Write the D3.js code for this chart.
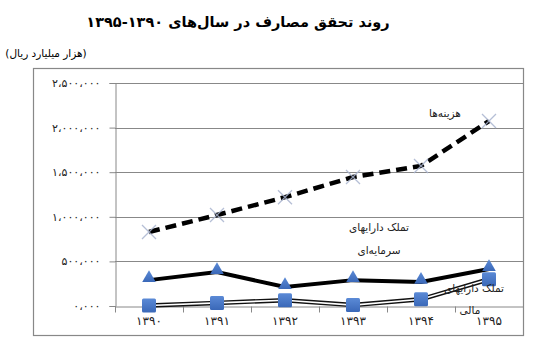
<!DOCTYPE html>
<html>
<head>
  <script src="https://d3js.org/d3.v7.min.js"></script>
  <style>
    body { margin: 0; background: #fff; }
    text { font-family: "DejaVu Sans", sans-serif; }
  </style>
</head>
<body>
<svg id="chart" width="543" height="354"></svg>
<script>
const years = ["۱۳۹۰", "۱۳۹۱", "۱۳۹۲", "۱۳۹۳", "۱۳۹۴", "۱۳۹۵"];
const expenses = [830000, 1020000, 1220000, 1446000, 1570000, 2074000];
const capitalAssets = [290000, 380000, 213000, 290000, 270000, 415000];
const financialAssets = [5000, 35000, 65000, 10000, 75000, 300000];
const yTicks = [0, 500000, 1000000, 1500000, 2000000, 2500000];
const yTickLabels = ["۰،۰۰۰", "۵۰۰،۰۰۰", "۱،۰۰۰،۰۰۰", "۱،۵۰۰،۰۰۰", "۲،۰۰۰،۰۰۰", "۲،۵۰۰،۰۰۰"];

const svg = d3.select("#chart");

// gradient for markers
const defs = svg.append("defs");
const grad = defs.append("linearGradient").attr("id", "blue").attr("x1", 0).attr("y1", 0).attr("x2", 0).attr("y2", 1);
grad.append("stop").attr("offset", "0%").attr("stop-color", "#5b8ad6");
grad.append("stop").attr("offset", "100%").attr("stop-color", "#3a68b8");

// title
svg.append("text").attr("x", 238).attr("y", 27).attr("text-anchor", "middle")
  .attr("font-size", 14.5).attr("font-weight", "bold").attr("direction", "rtl")
  .text("روند تحقق مصارف در سال‌های ۱۳۹۰-۱۳۹۵");
svg.append("text").attr("x", 46).attr("y", 57).attr("text-anchor", "middle")
  .attr("font-size", 10.5).attr("direction", "rtl")
  .text("(هزار میلیارد ریال)");

// outer frame
svg.append("rect").attr("x", 33.5).attr("y", 68.5).attr("width", 490).attr("height", 267)
  .attr("fill", "none").attr("stroke", "#888").attr("stroke-width", 1.2);

const x = d3.scaleBand().domain(years).range([115, 523]);
const y = d3.scaleLinear().domain([0, 2500000]).range([306, 83]);

// gridlines
svg.append("g").selectAll("line").data(yTicks.slice(1)).join("line")
  .attr("x1", 115).attr("x2", 523)
  .attr("y1", d => Math.round(y(d)) + 0.5).attr("y2", d => Math.round(y(d)) + 0.5)
  .attr("stroke", "#888").attr("stroke-width", 1);

// y axis
const yAxis = svg.append("g").attr("transform", "translate(115.5,0)")
  .call(d3.axisLeft(y).tickValues(yTicks).tickSize(6).tickFormat((d, i) => yTickLabels[i]));
yAxis.select(".domain").attr("stroke", "#888");
yAxis.selectAll(".tick line").attr("stroke", "#888");
yAxis.selectAll(".tick text").attr("font-size", 11).attr("x", -15).attr("fill", "#222")
  .style("font-family", "DejaVu Sans");

// x axis
const xAxis = svg.append("g").attr("transform", `translate(0,${Math.round(y(0)) + 0.5})`)
  .call(d3.axisBottom(x).tickSize(0).tickFormat(d => d));
xAxis.select(".domain").attr("stroke", "#888");
xAxis.selectAll(".tick text").attr("font-size", 12).attr("dy", "1.25em").attr("fill", "#222")
  .style("font-family", "DejaVu Sans");
xAxis.selectAll(".sep").data(d3.range(years.length + 1)).join("line")
  .attr("x1", i => Math.round(115 + i * x.step()) + 0.5)
  .attr("x2", i => Math.round(115 + i * x.step()) + 0.5)
  .attr("y1", 0).attr("y2", 6).attr("stroke", "#888");

const cx = (d, i) => x(years[i]) + x.bandwidth() / 2;
const line = arr => d3.line().x((d, i) => x(years[i]) + x.bandwidth() / 2).y(d => y(d))(arr);

// financial assets: double line
svg.append("path").attr("d", line(financialAssets)).attr("fill", "none")
  .attr("stroke", "#111").attr("stroke-width", 4.5);
svg.append("path").attr("d", line(financialAssets)).attr("fill", "none")
  .attr("stroke", "#fff").attr("stroke-width", 1.6);

// capital assets: thick solid
svg.append("path").attr("d", line(capitalAssets)).attr("fill", "none")
  .attr("stroke", "#000").attr("stroke-width", 4);

// expenses: dashed
svg.append("path").attr("d", line(expenses)).attr("fill", "none")
  .attr("stroke", "#000").attr("stroke-width", 4.5).attr("stroke-dasharray", "11,6");

// X markers
svg.append("g").selectAll("path").data(expenses).join("path")
  .attr("d", (d, i) => {
    const px = cx(d, i), py = y(d), s = 7;
    return `M${px - s},${py - s}L${px + s},${py + s}M${px - s},${py + s}L${px + s},${py - s}`;
  })
  .attr("stroke", "#a9b4cf").attr("stroke-width", 1.3).attr("opacity", 0.85);

// triangles
svg.append("g").selectAll("path").data(capitalAssets).join("path")
  .attr("transform", (d, i) => `translate(${cx(d, i)},${y(d) - 2})`)
  .attr("d", d3.symbol(d3.symbolTriangle, 80))
  .attr("fill", "url(#blue)");

// squares
svg.append("g").selectAll("rect").data(financialAssets).join("rect")
  .attr("x", (d, i) => cx(d, i) - 7).attr("y", d => y(d) - 7)
  .attr("width", 14).attr("height", 14).attr("rx", 1.5)
  .attr("fill", "url(#blue)");

// series labels
const lab = (t, px, py) => svg.append("text").attr("x", px).attr("y", py)
  .attr("text-anchor", "middle").attr("font-size", 10.5).attr("direction", "rtl")
  .attr("fill", "#222").text(t);
lab("هزینه‌ها", 445, 117);
lab("تملک دارایهای", 379, 231);
lab("سرمایه‌ای", 379, 254);
lab("تملک دارایهای", 474, 292);
lab("مالی", 470, 314);
</script>
</body>
</html>
